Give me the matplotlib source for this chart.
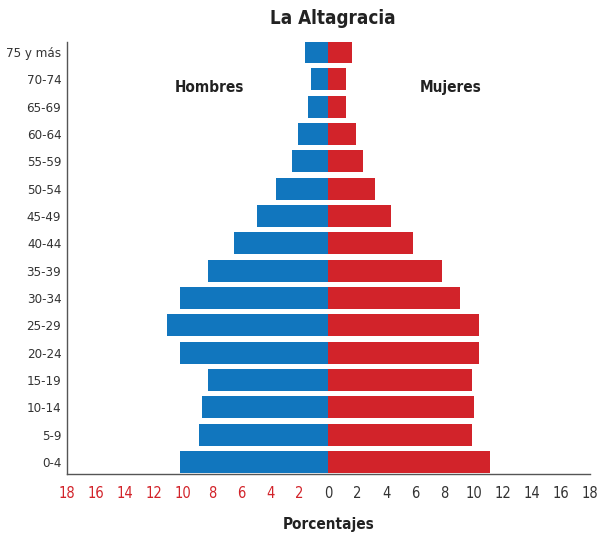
import numpy as np
import matplotlib.pyplot as plt

grupos = ['0-4', '5-9', '10-14', '15-19', '20-24', '25-29', '30-34', '35-39',
          '40-44', '45-49', '50-54', '55-59', '60-64', '65-69', '70-74', '75 y más']
hombres = [10.2, 8.9, 8.7, 8.3, 10.2, 11.1, 10.2, 8.3,
           6.5, 4.9, 3.6, 2.5, 2.1, 1.4, 1.2, 1.6]
mujeres = [11.1, 9.9, 10.0, 9.9, 10.4, 10.4, 9.1, 7.8,
           5.8, 4.3, 3.2, 2.4, 1.9, 1.2, 1.2, 1.6]
ticks = list(range(-18, 19, 2))

AZUL = '#1176be'
ROJO = '#d2232a'
GRIS = '#333333'

plt.rcParams['font.family'] = ['DejaVu Sans']
plt.rcParams['font.stretch'] = 'condensed'

fig = plt.figure(figsize=(6.08, 5.38), dpi=100)
ax = fig.add_axes([0.110, 0.119, 0.860, 0.803])

y = np.arange(len(grupos))
ax.barh(y, [-v for v in hombres], height=0.8, color=AZUL)
ax.barh(y, mujeres, height=0.8, color=ROJO)

ax.set_xlim(-18, 18)
ax.set_ylim(-0.44, 15.37)
ax.set_yticks(y)
ax.set_yticklabels(grupos, fontsize=9.5, color=GRIS)
ax.set_xticks(ticks)
ax.set_xticklabels([str(abs(t)) for t in ticks], fontsize=10.5)
for t, lab in zip(ticks, ax.get_xticklabels()):
    lab.set_color(ROJO if t < 0 else GRIS)
ax.tick_params(length=0, pad=9)
ax.tick_params(axis='y', pad=4)

for s in ['top', 'right']:
    ax.spines[s].set_visible(False)
for s in ['left', 'bottom']:
    ax.spines[s].set_color('#555555')
    ax.spines[s].set_linewidth(1)

ax.text(-8.2, 13.7, 'Hombres', ha='center', va='center', fontsize=11,
        fontweight='bold', color='#222222')
ax.text(8.4, 13.7, 'Mujeres', ha='center', va='center', fontsize=11,
        fontweight='bold', color='#222222')

fig.text(0.548, 0.966, 'La Altagracia', ha='center', va='center', fontsize=13.5,
         fontweight='bold', color='#222222')
fig.text(0.541, 0.026, 'Porcentajes', ha='center', va='center', fontsize=11,
         fontweight='bold', color='#222222')

fig.savefig('out.png', dpi=100)
